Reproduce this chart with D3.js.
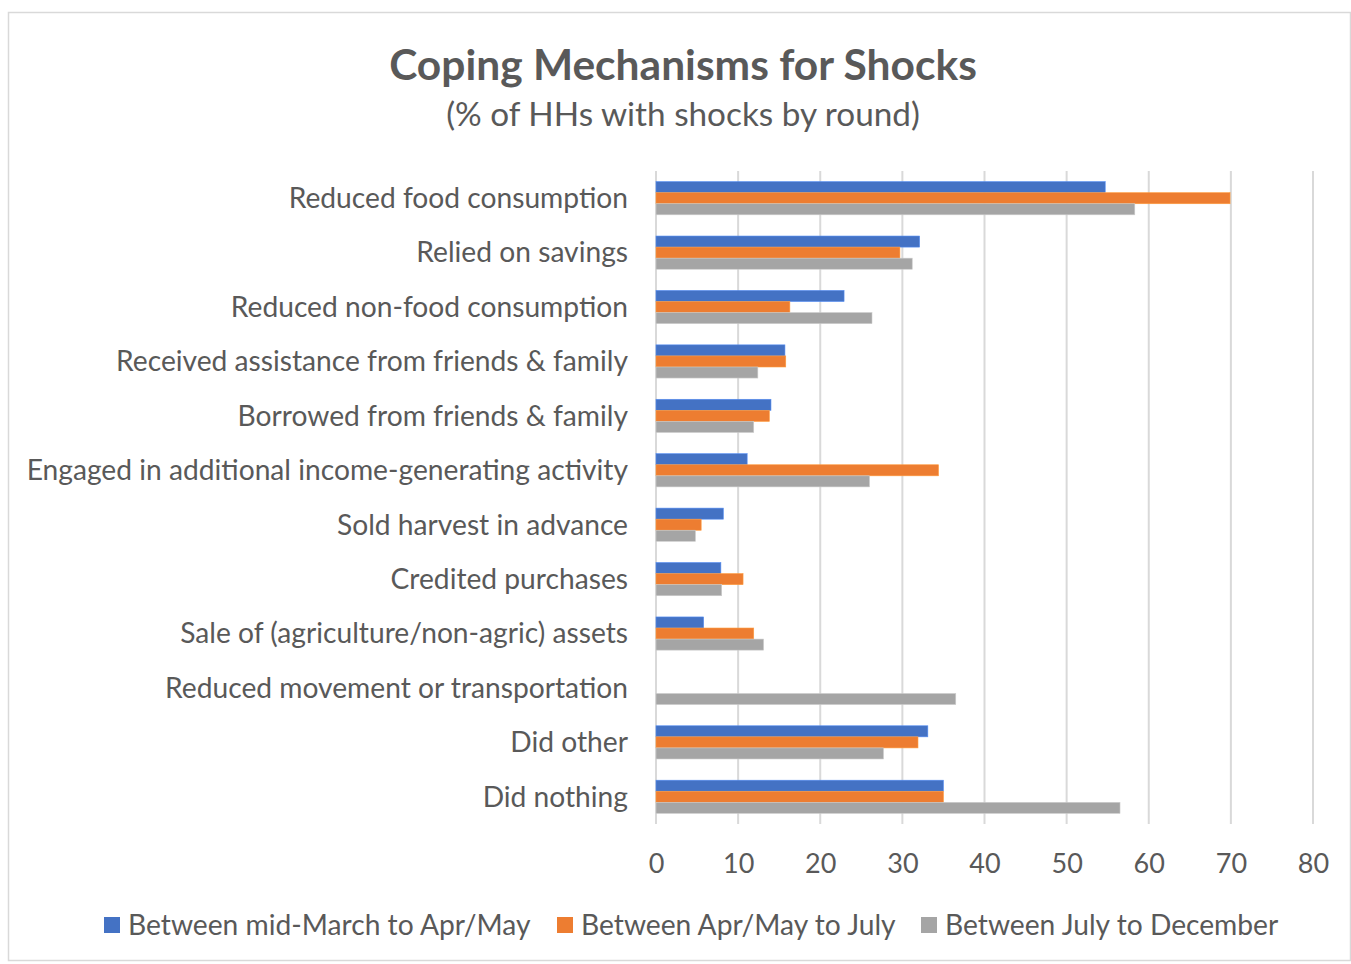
<!DOCTYPE html>
<html>
<head>
<meta charset="utf-8">
<script src="https://cdn.jsdelivr.net/npm/d3@7"></script>
<style>
  body { margin: 0; background: #fff; }
  text { font-family: Lato, "Open Sans", sans-serif; fill: #595959; }
</style>
</head>
<body>
<div id="vis"></div>
<script>
// Coping mechanisms chart
var categories = [
    'Reduced food consumption',
    'Relied on savings',
    'Reduced non-food consumption',
    'Received assistance from friends & family',
    'Borrowed from friends & family',
    'Engaged in additional income-generating activity',
    'Sold harvest in advance',
    'Credited purchases',
    'Sale of (agriculture/non-agric) assets',
    'Reduced movement or transportation',
    'Did other',
    'Did nothing'
];
var seriesNames = ['Between mid-March to Apr/May', 'Between Apr/May to July', 'Between July to December'];
var round1 = [54.7, 32.1, 22.9, 15.7, 14.0, 11.1, 8.2, 7.9, 5.8, 0, 33.1, 35.0];
var round2 = [69.9, 29.7, 16.3, 15.8, 13.8, 34.4, 5.5, 10.6, 11.9, 0, 31.9, 35.0];
var round3 = [58.3, 31.2, 26.3, 12.4, 11.9, 26.0, 4.8, 8.0, 13.1, 36.5, 27.7, 56.5];
var xTicks = [0, 10, 20, 30, 40, 50, 60, 70, 80];
var colors = ['#4472C4', '#ED7D31', '#A5A5A5'];

var width = 1351,
    height = 964;
var margin = { top: 171, right: 38, bottom: 140, left: 656 };
var drawWidth = 1313 - margin.left,
    drawHeight = 824 - margin.top;

var svg = d3.select('#vis').append('svg')
    .attr('width', width)
    .attr('height', height);

// chart border
svg.append('rect')
    .attr('x', 8.5).attr('y', 12.5)
    .attr('width', 1342).attr('height', 948)
    .attr('fill', 'none')
    .attr('stroke', '#d9d9d9')
    .attr('stroke-width', 1.5);

svg.append('text')
    .attr('x', 683).attr('y', 80)
    .attr('text-anchor', 'middle')
    .style('font-size', '42.5px')
    .style('font-weight', 'bold')
    .text('Coping Mechanisms for Shocks');

svg.append('text')
    .attr('x', 683).attr('y', 126)
    .attr('text-anchor', 'middle')
    .style('font-size', '33.3px')
    .text('(% of HHs with shocks by round)');

var g = svg.append('g')
    .attr('transform', 'translate(' + margin.left + ',' + margin.top + ')');

var xScale = d3.scaleLinear().domain([0, 80]).range([0, drawWidth]);
var yScale = d3.scaleBand().domain(categories).range([0, drawHeight]).paddingInner(0.39).paddingOuter(0.195);
var y1 = d3.scaleBand().domain([0, 1, 2]).range([0, yScale.bandwidth()]);

// gridlines
g.selectAll('.grid').data(xTicks).enter().append('line')
    .attr('class', 'grid')
    .attr('x1', function(d) { return xScale(d); })
    .attr('x2', function(d) { return xScale(d); })
    .attr('y1', 0).attr('y2', drawHeight)
    .attr('stroke', '#d9d9d9')
    .attr('stroke-width', 2);

var table = categories.map(function(c, i) {
    return { cat: c, values: [round1[i], round2[i], round3[i]] };
});

var groups = g.selectAll('.cat').data(table).enter().append('g')
    .attr('class', 'cat')
    .attr('transform', function(d) { return 'translate(0,' + yScale(d.cat) + ')'; });

groups.selectAll('rect')
    .data(function(d) { return d.values.map(function(v, k) { return { k: k, v: v }; }); })
    .enter().append('rect')
    .attr('x', xScale(0))
    .attr('y', function(d) { return y1(d.k); })
    .attr('height', y1.bandwidth())
    .attr('width', function(d) { return xScale(d.v) - xScale(0); })
    .attr('fill', function(d) { return colors[d.k]; })
    .attr('stroke', function(d) { return d.v > 0 ? d3.color(colors[d.k]).brighter(0.6) : 'none'; })
    .attr('stroke-width', 0.6);

// category labels
g.selectAll('.catLabel').data(categories).enter().append('text')
    .attr('class', 'catLabel')
    .attr('x', -28)
    .attr('y', function(d) { return yScale(d) + yScale.bandwidth() / 2; })
    .attr('dy', '0.35em')
    .attr('text-anchor', 'end')
    .style('font-size', '28.2px')
    .text(function(d) { return d; });

// x axis
var xAxis = d3.axisBottom(xScale).tickValues(xTicks).tickSize(0).tickPadding(30);
var xAxisG = g.append('g')
    .attr('transform', 'translate(0,' + drawHeight + ')')
    .call(xAxis);
xAxisG.select('.domain').remove();
xAxisG.selectAll('text')
    .style('font-size', '27px')
    .style('font-family', 'Lato, "Open Sans", sans-serif')
    .attr('fill', '#595959');

// legend
var legendX = [104, 557, 921];
var legend = svg.selectAll('.legend').data(seriesNames).enter().append('g')
    .attr('class', 'legend')
    .attr('transform', function(d, i) { return 'translate(' + legendX[i] + ',925)'; });
legend.append('rect')
    .attr('x', 0).attr('y', -8)
    .attr('width', 16).attr('height', 16)
    .attr('fill', function(d, i) { return colors[i]; });
legend.append('text')
    .attr('x', 24).attr('y', 0)
    .attr('dy', '0.35em')
    .style('font-size', '28.2px')
    .text(function(d) { return d; });
</script>
</body>
</html>
